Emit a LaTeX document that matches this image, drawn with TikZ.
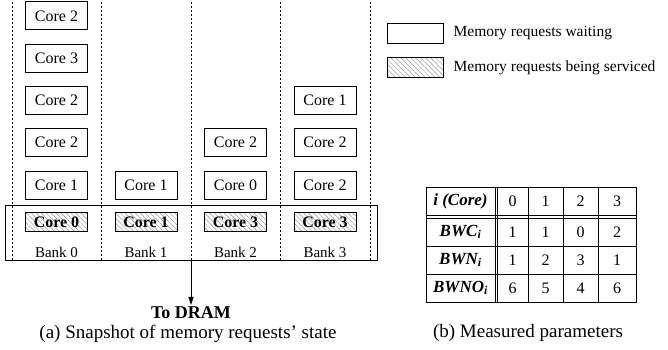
\documentclass[tikz,border=0pt]{standalone}
\usepackage{fontspec}
\setmainfont{Liberation Serif}
\usetikzlibrary{positioning}
\usetikzlibrary{arrows.meta}
\usetikzlibrary{patterns.meta}

\begin{document}
\begin{tikzpicture}[x=1pt,y=1pt,font=\fontsize{16}{19}\selectfont,
  waitbox/.style={draw,line width=0.8pt,minimum width=62pt,minimum height=28pt,inner sep=0pt},
  servbox/.style={draw,line width=0.8pt,minimum width=62pt,minimum height=19pt,inner sep=0pt,
    pattern={Lines[angle=-45,distance=3.5pt,line width=0.5pt]},pattern color=gray!80,
    font=\fontsize{16}{19}\selectfont\bfseries},
  sep/.style={line width=0.7pt,dash pattern=on 2pt off 2pt},
  banklabel/.style={font=\fontsize{15}{18}\selectfont,inner sep=0pt},
  caption/.style={font=\fontsize{19}{22}\selectfont,inner sep=0pt},
  tline/.style={line width=0.8pt}]
\useasboundingbox (0,0) rectangle (668,350);

% bank separators
\foreach \x in {12,101,191,280,370}
  \draw[sep] (\x,90) -- (\x,350);

% queues
\node[waitbox] (w00) at (56.5,165) {Core 1};
\node[waitbox, above=13.5pt of w00] (w01) {Core 2};
\node[waitbox, above=13.5pt of w01] (w02) {Core 2};
\node[waitbox, above=13.5pt of w02] (w03) {Core 3};
\node[waitbox, above=13.5pt of w03] (w04) {Core 2};
\node[waitbox] (w10) at (146,165) {Core 1};
\node[waitbox] (w20) at (235.5,165) {Core 0};
\node[waitbox, above=13.5pt of w20] (w21) {Core 2};
\node[waitbox] (w30) at (325,165) {Core 2};
\node[waitbox, above=13.5pt of w30] (w31) {Core 2};
\node[waitbox, above=13.5pt of w31] (w32) {Core 1};

% banks
\node[draw,line width=0.8pt,minimum width=372pt,minimum height=55pt] (banks) at (191,117.5) {};
\node[servbox] (s0) at (56.5,128) {Core 0};
\node[servbox] (s1) at (146,128) {Core 1};
\node[servbox] (s2) at (235.5,128) {Core 3};
\node[servbox] (s3) at (325,128) {Core 3};
\node[banklabel] (b0) at (56.5,98) {Bank 0};
\node[banklabel] (b1) at (146,98) {Bank 1};
\node[banklabel] (b2) at (235.5,98) {Bank 2};
\node[banklabel] (b3) at (325,98) {Bank 3};

\coordinate (dram) at (191,45);
\draw[line width=0.8pt,-{Triangle[length=8pt,width=5pt]}] (banks.south) -- (dram);
\node[below=1pt of dram,inner sep=0pt,font=\fontsize{18}{21}\selectfont\bfseries] (todram) {To DRAM};
\node[caption] (capa) at (188,16) {(a) Snapshot of memory requests' state};

% legend
\node[waitbox,minimum width=56pt,minimum height=20pt] (lw) at (415,317) {};
\node[servbox,minimum width=56pt,minimum height=20pt] (ls) at (415,282.5) {};
\node[right=10pt of lw,inner sep=0pt,font=\fontsize{15.5}{18}\selectfont] (lwt) {Memory requests waiting};
\node[right=10pt of ls,inner sep=0pt,font=\fontsize{15.5}{18}\selectfont] (lst) {Memory requests being serviced};

% parameter table
\draw[tline] (426,48) rectangle (636,163);
\draw[tline] (426,134.5) -- (636,134.5);
\draw[tline] (426,132) -- (636,132);
\draw[tline] (426,104) -- (636,104);
\draw[tline] (426,76) -- (636,76);
\foreach \x in {495,497,528,563,598}
  \draw[tline] (\x,48) -- (\x,163);
\node[font=\fontsize{17}{20}\selectfont\bfseries\itshape] (hcore) at (460.5,149) {i (Core)};
\node[font=\fontsize{17}{20}\selectfont\bfseries\itshape] (hbwc) at (460.5,118) {BWC\textsubscript{i}};
\node[font=\fontsize{17}{20}\selectfont\bfseries\itshape] (hbwn) at (460.5,90) {BWN\textsubscript{i}};
\node[font=\fontsize{17}{20}\selectfont\bfseries\itshape] (hbwno) at (460.5,62) {BWNO\textsubscript{i}};
\foreach \x/\a/\b/\c/\d [count=\k from 0] in {512.5/0/1/1/6,545.5/1/1/2/5,580.5/2/0/3/4,617/3/2/1/6} {
  \node (core\k) at (\x,149) {\a};
  \node (bwc\k) at (\x,118) {\b};
  \node (bwn\k) at (\x,90) {\c};
  \node (bwno\k) at (\x,62) {\d};
}
\node[caption] (capb) at (528,17) {(b) Measured parameters};
\end{tikzpicture}
\end{document}
